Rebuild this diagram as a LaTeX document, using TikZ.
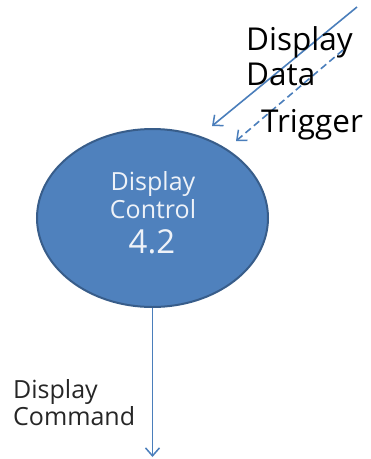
\documentclass[tikz,border=0pt]{standalone}
\usepackage{fontspec}
\setmainfont{Open Sans}
\usetikzlibrary{arrows.meta,shapes.geometric}
\definecolor{fillblue}{HTML}{4F81BD}
\definecolor{edgeblue}{HTML}{385D8A}
\definecolor{lineblue}{HTML}{4A7EBB}
\definecolor{softwhite}{HTML}{EEF2F8}
\begin{document}
\begin{tikzpicture}[x=1pt,y=-1pt,
  flow/.style={draw=lineblue, line width=1.6pt, -{Straight Barb[length=8pt,width=14pt,line width=1.5pt]}},
  biglbl/.style={font=\fontsize{31.5}{35}\selectfont, text=black, inner sep=0pt, anchor=base west},
  smalllbl/.style={font=\fontsize{25}{27}\selectfont, text=black!85, inner sep=0pt, anchor=base west},
  inlbl/.style={text=softwhite, inner sep=0pt, anchor=base}]
\useasboundingbox (0,0) rectangle (371,459);
\node[ellipse, draw=edgeblue, line width=2pt, fill=fillblue, minimum width=231pt, minimum height=178pt, inner sep=0pt] (proc) at (152.5,218) {};
\node[inlbl, font=\fontsize{25}{27}\selectfont] (p1) at (153,190) {Display};
\node[inlbl, font=\fontsize{33}{36}\selectfont] (p2) at (153,218) {\fontsize{25}{27}\selectfont Control};
\node[inlbl, font=\fontsize{33}{36}\selectfont] (p3) at (152,253) {4.2};
% incoming data flows
\coordinate (dsrc) at (357,7);
\coordinate (dend) at (212,126);
\coordinate (tsrc) at (343,50);
\coordinate (tend) at (236,141);
\draw[flow] (dsrc) -- (dend);
\draw[flow, dashed, dash pattern=on 7pt off 4pt] (tsrc) -- (tend);
\node[biglbl] (dd1) at (246,50) {Display};
\node[biglbl] (dd2) at (246,85) {Data};
\node[biglbl] (trg) at (261,132) {Trigger};
% outgoing flow
\coordinate (cend) at (152.5,457);
\draw[flow] (proc.south) -- (cend);
\node[smalllbl] (dc1) at (13,398) {Display};
\node[smalllbl] (dc2) at (13,425) {Command};
\end{tikzpicture}
\end{document}
